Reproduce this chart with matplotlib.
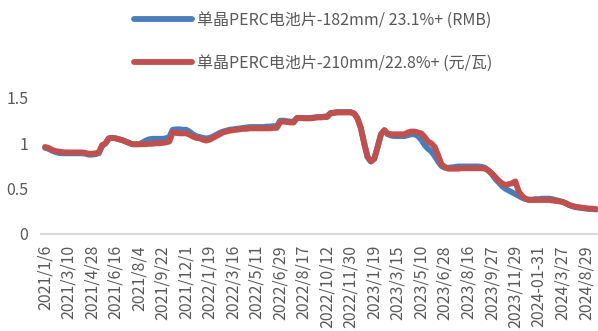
import matplotlib
matplotlib.use("Agg")
import matplotlib.pyplot as plt

plt.rcParams['font.family'] = ['Noto Sans CJK SC', 'DejaVu Sans']

# weekly prices, yuan per watt
cell_182 = [
    0.95, 0.94, 0.92, 0.905, 0.895, 0.89, 0.89,
    0.89, 0.89, 0.89, 0.89, 0.89, 0.885, 0.875,
    0.875, 0.88, 0.89, 0.97, 1.00, 1.055, 1.06,
    1.055, 1.045, 1.035, 1.02, 1.005, 0.99, 0.99,
    0.99, 1.01, 1.03, 1.045, 1.05, 1.05, 1.05,
    1.05, 1.055, 1.07, 1.15, 1.155, 1.155, 1.15,
    1.15, 1.13, 1.10, 1.08, 1.07, 1.06, 1.055,
    1.06, 1.075, 1.095, 1.115, 1.13, 1.14, 1.15,
    1.155, 1.16, 1.165, 1.17, 1.175, 1.18, 1.18,
    1.18, 1.18, 1.18, 1.185, 1.185, 1.19, 1.19,
    1.25, 1.25, 1.245, 1.24, 1.24, 1.28, 1.28,
    1.28, 1.28, 1.28, 1.285, 1.29, 1.29, 1.295,
    1.30, 1.335, 1.34, 1.345, 1.345, 1.345, 1.345,
    1.345, 1.33, 1.275, 1.17, 1.0, 0.85, 0.80,
    0.83, 0.96, 1.10, 1.14, 1.10, 1.085, 1.08,
    1.08, 1.08, 1.08, 1.09, 1.10, 1.10, 1.08,
    1.04, 0.98, 0.94, 0.91, 0.86, 0.80, 0.75,
    0.73, 0.73, 0.735, 0.74, 0.745, 0.745, 0.745,
    0.745, 0.745, 0.745, 0.745, 0.74, 0.73, 0.70,
    0.66, 0.61, 0.57, 0.53, 0.50, 0.48, 0.46,
    0.44, 0.42, 0.40, 0.385, 0.38, 0.38, 0.385,
    0.385, 0.39, 0.39, 0.39, 0.385, 0.375, 0.365,
    0.355, 0.34, 0.32, 0.305, 0.295, 0.29, 0.285,
    0.28, 0.275, 0.275, 0.27,
]

cell_210 = [
    0.96, 0.95, 0.93, 0.915, 0.91, 0.905, 0.90,
    0.90, 0.90, 0.90, 0.90, 0.90, 0.895, 0.885,
    0.885, 0.89, 0.90, 0.98, 1.00, 1.055, 1.06,
    1.055, 1.045, 1.035, 1.02, 1.005, 0.99, 0.99,
    0.99, 0.99, 0.99, 0.995, 0.995, 1.0, 1.0,
    1.005, 1.01, 1.02, 1.12, 1.115, 1.11, 1.11,
    1.11, 1.095, 1.075, 1.06, 1.055, 1.04, 1.03,
    1.04, 1.06, 1.08, 1.10, 1.12, 1.13, 1.14,
    1.145, 1.15, 1.155, 1.16, 1.16, 1.165, 1.165,
    1.165, 1.165, 1.165, 1.165, 1.165, 1.17, 1.17,
    1.235, 1.24, 1.235, 1.23, 1.23, 1.28, 1.28,
    1.275, 1.275, 1.275, 1.28, 1.285, 1.285, 1.29,
    1.29, 1.33, 1.335, 1.34, 1.34, 1.34, 1.34,
    1.34, 1.33, 1.275, 1.17, 1.0, 0.85, 0.80,
    0.83, 0.96, 1.10, 1.147, 1.11, 1.10, 1.10,
    1.10, 1.10, 1.10, 1.12, 1.13, 1.13, 1.12,
    1.11, 1.07, 1.02, 1.0, 0.96, 0.87, 0.77,
    0.74, 0.72, 0.72, 0.72, 0.72, 0.725, 0.725,
    0.725, 0.725, 0.725, 0.725, 0.725, 0.72, 0.70,
    0.67, 0.63, 0.59, 0.56, 0.54, 0.55, 0.56,
    0.58, 0.47, 0.42, 0.39, 0.375, 0.375, 0.375,
    0.375, 0.375, 0.375, 0.375, 0.37, 0.365, 0.36,
    0.355, 0.34, 0.32, 0.31, 0.30, 0.295, 0.29,
    0.285, 0.28, 0.28, 0.275,
]

date_labels = [
    '2021/1/6', '2021/3/10', '2021/4/28', '2021/6/16', '2021/8/4',
    '2021/9/22', '2021/12/1', '2022/1/19', '2022/3/16', '2022/5/11',
    '2022/6/29', '2022/8/17', '2022/10/12', '2022/11/30', '2023/1/19',
    '2023/3/15', '2023/5/10', '2023/6/28', '2023/8/16', '2023/9/27',
    '2023/11/29', '2024-01-31', '2024/3/27', '2024/8/29',
]
label_step = 7

name_182 = '单晶PERC电池片-182mm/ 23.1%+ (RMB)'
name_210 = '单晶PERC电池片-210mm/22.8%+ (元/瓦)'

grey = '#595959'

fig = plt.figure(figsize=(5.98, 3.31), dpi=100)
ax = fig.add_axes([41 / 598, 97 / 331, 557 / 598, 136 / 331])

x = range(len(cell_182))
ax.plot(x, cell_182, color='#4A7EBB', lw=4.2, solid_capstyle='round',
        solid_joinstyle='round', label=name_182, clip_on=False)
ax.plot(x, cell_210, color='#C0504D', lw=4.2, solid_capstyle='round',
        solid_joinstyle='round', label=name_210, clip_on=False)

ax.set_xlim(-1.2, 164.6)
ax.set_ylim(0, 1.5)
ax.set_yticks([0, 0.5, 1, 1.5])
ax.set_yticklabels(['0', '0.5', '1', '1.5'])
ax.set_xticks(range(0, label_step * len(date_labels), label_step))
ax.set_xticklabels(date_labels, rotation=90, va='top', ha='center')

for s in ['top', 'right', 'left']:
    ax.spines[s].set_visible(False)
ax.spines['bottom'].set_color('#D9D9D9')
ax.spines['bottom'].set_linewidth(1.5)
ax.tick_params(axis='both', length=0, colors=grey)
ax.tick_params(axis='y', labelsize=11.5, pad=9)
ax.tick_params(axis='x', labelsize=11.5, pad=8)

leg = fig.legend(loc='center', bbox_to_anchor=(0.524, 0.874), ncol=1,
                 frameon=False, fontsize=11.5, handlelength=3.6,
                 handletextpad=0.35, labelspacing=1.6)
for t in leg.get_texts():
    t.set_color(grey)

fig.savefig('out.png', dpi=100)
